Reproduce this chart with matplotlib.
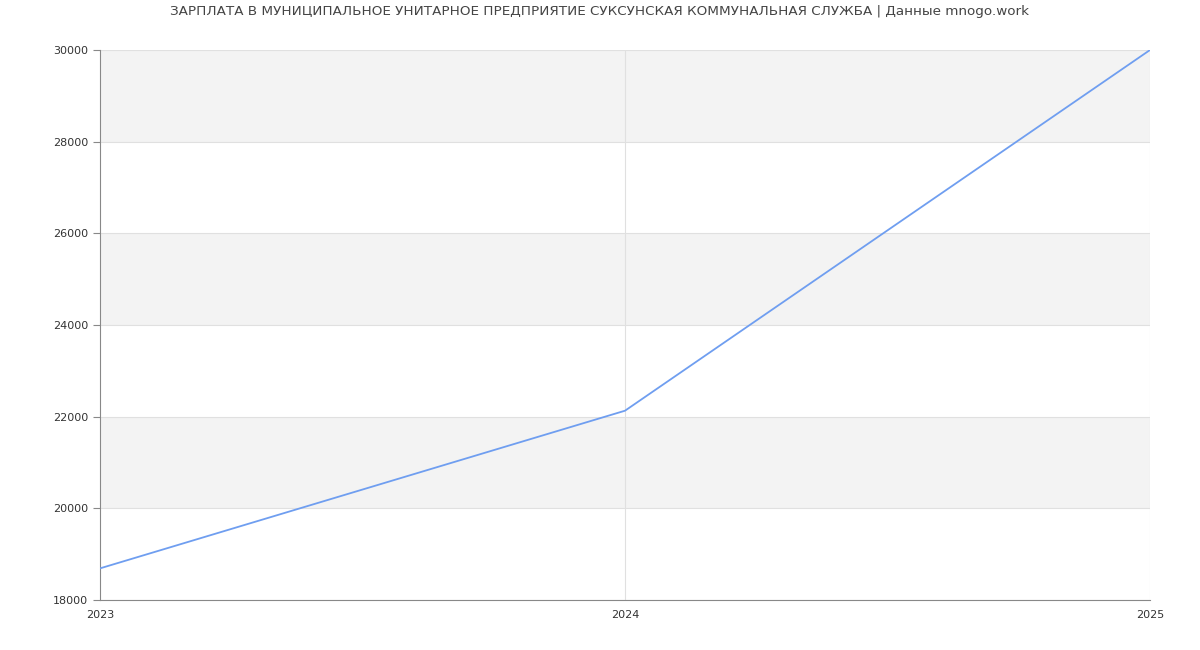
import matplotlib
matplotlib.use("Agg")
import matplotlib.pyplot as plt

years = [2023, 2024, 2025]
salary = [18690, 22130, 30000]
yticks = [18000, 20000, 22000, 24000, 26000, 28000, 30000]
title = "ЗАРПЛАТА В МУНИЦИПАЛЬНОЕ УНИТАРНОЕ ПРЕДПРИЯТИЕ СУКСУНСКАЯ КОММУНАЛЬНАЯ СЛУЖБА | Данные mnogo.work"

fig = plt.figure(figsize=(12, 6.5), dpi=100)
ax = fig.add_axes([100/1200, 50/650, 1050/1200, 550/650])
ax.set_xlim(2023, 2025)
ax.set_ylim(18000, 30000)

# alternating bands
for i in range(len(yticks) - 1):
    if i % 2 == 1:
        ax.axhspan(yticks[i], yticks[i+1], color="#f3f3f3", zorder=0, lw=0)
for y in yticks:
    ax.axhline(y, color="#e0e0e0", lw=0.8, zorder=1)
for x in years[1:]:
    ax.axvline(x, color="#e0e0e0", lw=0.8, zorder=1)

ax.plot(years, salary, color="#6f9ef0", lw=1.3, zorder=3)

ax.set_xticks(years)
ax.set_xticklabels([str(y) for y in years])
ax.set_yticks(yticks)
ax.set_yticklabels([str(y) for y in yticks])
ax.tick_params(axis="both", labelsize=8, colors="#333333", length=5, width=0.8)
ax.tick_params(axis="x", length=0, pad=7)
ax.tick_params(axis="y", color="#888888")
for s in ["top", "right"]:
    ax.spines[s].set_visible(False)
for s in ["left", "bottom"]:
    ax.spines[s].set_color("#888888")
    ax.spines[s].set_linewidth(0.8)

fig.text(0.5 - 1/1200, 1 - 12/650, title, ha="center", va="center", fontsize=9.7, color="#444444")

fig.savefig("out.png", dpi=100)
